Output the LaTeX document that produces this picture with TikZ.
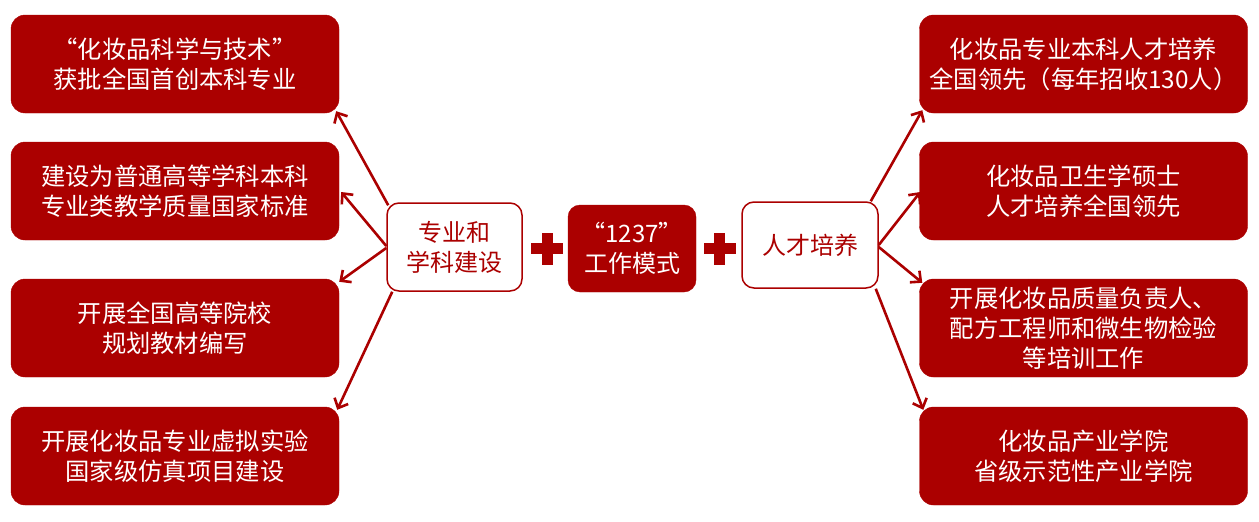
\documentclass[tikz,border=0pt]{standalone}
\usepackage{fontspec}
\setmainfont{Noto Sans CJK SC}
\usetikzlibrary{arrows.meta,calc}
\definecolor{dred}{RGB}{171,0,0}
\tikzset{
  redbox/.style={draw=dred,fill=dred,rounded corners=14pt,minimum width=328pt,minimum height=98pt,
    text=white,align=center,inner sep=0pt,font=\fontsize{24.3}{30}\selectfont},
  hubbox/.style={draw=dred,line width=1.5pt,fill=white,rounded corners=12pt,inner sep=0pt,
    text=dred,align=center,font=\fontsize{24}{30}\selectfont},
  midbox/.style={draw=dred,fill=dred,rounded corners=12pt,inner sep=0pt,
    text=white,align=center,font=\fontsize{24}{30}\selectfont},
  conn/.style={draw=dred,line width=2.6pt,-{Straight Barb[length=8pt,width=15pt,line width=2.6pt]}},
  plusbar/.style={fill=dred,draw=none}
}
\begin{document}
\begin{tikzpicture}[x=1pt,y=-1pt]
\useasboundingbox (0,0) rectangle (1259,522);
% left boxes
\node[redbox] (L1) at (175,64) {“化妆品科学与技术”\\获批全国首创本科专业};
\node[redbox] (L2) at (175,191) {建设为普通高等学科本科\\专业类教学质量国家标准};
\node[redbox] (L3) at (175,328) {开展全国高等院校\\规划教材编写};
\node[redbox] (L4) at (175,456) {开展化妆品专业虚拟实验\\国家级仿真项目建设};
% right boxes
\node[redbox] (R1) at (1083.5,64) {化妆品专业本科人才培养\\全国领先（每年招收130人）};
\node[redbox] (R2) at (1083.5,191) {化妆品卫生学硕士\\人才培养全国领先};
\node[redbox] (R3) at (1083.5,328) {开展化妆品质量负责人、\\配方工程师和微生物检验\\等培训工作};
\node[redbox] (R4) at (1083.5,456) {化妆品产业学院\\省级示范性产业学院};
% center
\node[hubbox,minimum width=135pt,minimum height=88pt] (A) at (454.5,247) {专业和\\学科建设};
\node[midbox,minimum width=128pt,minimum height=87pt] (B) at (632,248.5) {“1237”\\工作模式};
\node[hubbox,minimum width=136pt,minimum height=86pt] (C) at (810,245) {人才培养};
% plus signs
\coordinate (P1) at (547,248.5);
\coordinate (P2) at (719.5,248.5);
\foreach \p in {P1,P2}{
  \fill[plusbar] ($(\p)+(-16,-5.3)$) rectangle ($(\p)+(16,5.3)$);
  \fill[plusbar] ($(\p)+(-5.5,-16)$) rectangle ($(\p)+(5.5,16)$);
}
% connectors left
\draw[conn] ($(A.north west)+(2,3)$) -- ($(L1.south east)+(-3,-2)$);
\draw[conn] ($(A.west)+(0,-1)$) -- ($(L2.east)+(2,1)$);
\draw[conn] ($(A.west)+(0,1)$) -- ($(L3.north east)+(0,3)$);
\draw[conn] ($(A.south west)+(6,0)$) -- ($(L4.north east)+(-2,3)$);
% connectors right
\draw[conn] ($(C.north east)+(-8,0)$) -- ($(R1.south west)+(3,-3)$);
\draw[conn] ($(C.east)+(0,0)$) -- ($(R2.west)+(1,1)$);
\draw[conn] ($(C.east)+(0,2)$) -- ($(R3.north west)+(3,4)$);
\draw[conn] ($(C.south east)+(-3,0)$) -- ($(R4.north west)+(4,3)$);
\end{tikzpicture}
\end{document}
